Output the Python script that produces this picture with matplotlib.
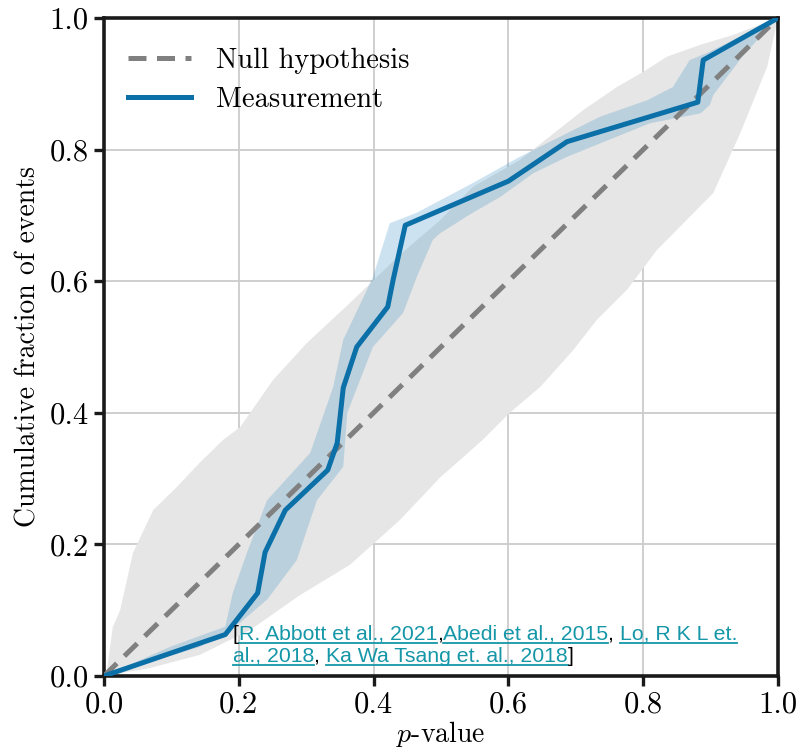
import numpy as np
import matplotlib
matplotlib.use("Agg")
import matplotlib.pyplot as plt
from matplotlib.lines import Line2D

plt.rcParams['font.family'] = 'serif'
plt.rcParams['font.serif'] = ['cmr10']
plt.rcParams['mathtext.fontset'] = 'cm'
plt.rcParams['axes.formatter.use_mathtext'] = True

# measured cumulative curve
meas_x = [0.0, 0.18, 0.228, 0.239, 0.269, 0.332, 0.346, 0.355, 0.375, 0.421, 0.429, 0.447, 0.600, 0.687, 0.881, 0.889, 1.0]
meas_y = [0.0, 0.063, 0.126, 0.188, 0.252, 0.313, 0.354, 0.438, 0.500, 0.561, 0.602, 0.685, 0.752, 0.812, 0.872, 0.936, 1.0]

# measurement uncertainty band (upper-left edge, lower-right edge)
band_up_x = [0.0, 0.10, 0.18, 0.191, 0.212, 0.242, 0.306, 0.340, 0.355, 0.399, 0.424, 0.464, 0.547, 0.617, 0.736, 0.806, 0.844, 0.869, 0.895, 1.0]
band_up_y = [0.0, 0.045, 0.075, 0.126, 0.187, 0.267, 0.339, 0.439, 0.511, 0.606, 0.688, 0.704, 0.749, 0.789, 0.850, 0.875, 0.895, 0.936, 0.947, 1.0]
band_lo_x = [0.0, 0.043, 0.142, 0.202, 0.242, 0.286, 0.316, 0.355, 0.361, 0.399, 0.444, 0.464, 0.488, 0.499, 0.547, 0.588, 0.637, 0.687, 0.810, 0.885, 0.899, 0.904, 0.95, 1.0]
band_lo_y = [0.0, 0.014, 0.044, 0.081, 0.116, 0.176, 0.267, 0.318, 0.400, 0.500, 0.552, 0.606, 0.663, 0.673, 0.704, 0.728, 0.764, 0.789, 0.840, 0.855, 0.868, 0.883, 0.945, 1.0]

# null hypothesis 90% region
null_up_x = [0.0, 0.004, 0.013, 0.024, 0.043, 0.073, 0.108, 0.142, 0.177, 0.202, 0.251, 0.301, 0.365, 0.439, 0.499, 0.547, 0.617, 0.711, 0.761, 0.800, 0.835, 0.884, 0.933, 1.0]
null_up_y = [0.0, 0.005, 0.074, 0.100, 0.187, 0.252, 0.287, 0.324, 0.359, 0.378, 0.450, 0.506, 0.567, 0.640, 0.693, 0.743, 0.784, 0.860, 0.895, 0.918, 0.941, 0.959, 0.974, 1.0]
null_lo_x = [0.0, 0.068, 0.142, 0.217, 0.291, 0.365, 0.439, 0.499, 0.528, 0.562, 0.602, 0.647, 0.696, 0.731, 0.776, 0.820, 0.904, 0.944, 0.984, 1.0]
null_lo_y = [0.0, 0.012, 0.032, 0.070, 0.123, 0.169, 0.237, 0.302, 0.328, 0.359, 0.400, 0.439, 0.495, 0.541, 0.587, 0.647, 0.734, 0.825, 0.926, 1.0]

ticks = [0.0, 0.2, 0.4, 0.6, 0.8, 1.0]

# citation pieces: (text, is_link)
cite_lines = [
    [("[", False), ("R. Abbott et al., 2021", True), (",", False), ("Abedi et al., 2015", True),
     (", ", False), ("Lo, R K L et.", True)],
    [("al., 2018", True), (", ", False), ("Ka Wa Tsang et. al., 2018", True), ("]", False)],
]

fig = plt.figure(figsize=(8.01, 7.52), dpi=100)
ax = fig.add_axes([0.1298, 0.1011, 0.8415, 0.875])

ax.fill(np.r_[null_up_x, null_lo_x[::-1]], np.r_[null_up_y, null_lo_y[::-1]],
        color='#e6e6e6', lw=0, zorder=1)
ax.fill(np.r_[band_up_x, band_lo_x[::-1]], np.r_[band_up_y, band_lo_y[::-1]],
        color='#3b8fc4', alpha=0.25, lw=0, zorder=2)
ax.plot([0, 1], [0, 1], ls=(0, (3.6, 2.1)), color='#808080', lw=3.6, zorder=3,
        label='Null hypothesis')
ax.plot(meas_x, meas_y, color='#0b6fa8', lw=3.6, zorder=4, label='Measurement')

ax.set_xlim(0, 1)
ax.set_ylim(0, 1)
ax.set_xticks(ticks)
ax.set_yticks(ticks)
ax.set_xticklabels(['%.1f' % t for t in ticks])
ax.set_yticklabels(['%.1f' % t for t in ticks])
ax.grid(True, color='#cccccc', lw=1.3, zorder=0)
ax.set_axisbelow(True)
for s in ax.spines.values():
    s.set_linewidth(2.6)
    s.set_color('#1a1a1a')
ax.tick_params(direction='out', length=7, width=2.4, labelsize=22, pad=4, color='#1a1a1a')
ax.set_xlabel(r'$p$-value', fontsize=20, labelpad=0)
ax.set_ylabel('Cumulative fraction of events', fontsize=20, labelpad=6)
ax.legend(loc='upper left', bbox_to_anchor=(0, 0.992), frameon=False, fontsize=20.5,
          handlelength=2.2, handletextpad=0.9, labelspacing=0.45, borderaxespad=0.45)

# citation text with underlined links
renderer = fig.canvas.get_renderer()
inv = fig.transFigure.inverted()
link_col = '#1597a8'
y_pix = [752 - 640, 752 - 662]
for line, yp in zip(cite_lines, y_pix):
    xp = 233
    for txt, link in line:
        x0, y0 = inv.transform((xp, yp))
        t = fig.text(x0, y0, txt, fontsize=15.3, family='Liberation Sans',
                     color=link_col if link else 'black', va='baseline', ha='left', zorder=10)
        bb = t.get_window_extent(renderer)
        if link:
            (ux0, uy), (ux1, _) = inv.transform([(bb.x0, yp - 3), (bb.x1, yp - 3)])
            fig.add_artist(Line2D([ux0, ux1], [uy, uy], color=link_col, lw=1.3))
        xp = bb.x1

fig.savefig('out.png', dpi=100)
